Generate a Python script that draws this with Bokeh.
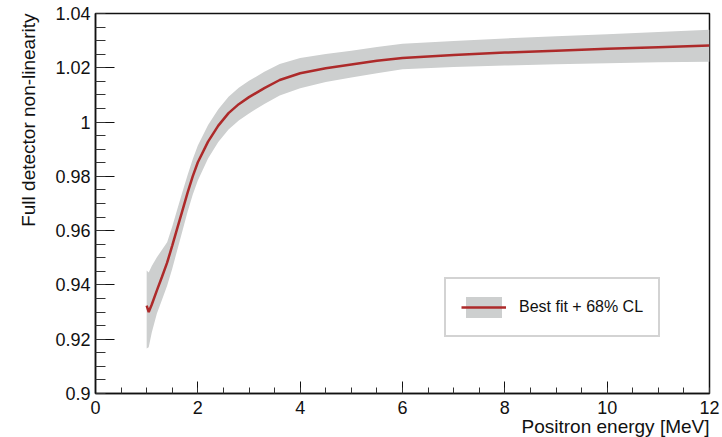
from bokeh.plotting import figure
from bokeh.models import (Range1d, SingleIntervalTicker, CustomJSTickFormatter,
                          Legend, LegendItem, ColumnDataSource, Title)
from bokeh.embed import file_html
from bokeh.resources import INLINE

# ---- data ----
energy = [1.0, 1.04, 1.1, 1.2, 1.3, 1.4, 1.5, 1.6, 1.7, 1.8, 1.9, 2.0, 2.2, 2.4, 2.6,
          2.8, 3.0, 3.3, 3.6, 4.0, 4.5, 5.0, 5.5, 6.0, 7.0, 8.0, 9.0, 10.0, 11.0, 12.0]
best_fit = [0.9324, 0.9300, 0.9328, 0.9380, 0.9430, 0.9482, 0.9545, 0.9610, 0.9675, 0.9740,
            0.9800, 0.9852, 0.9928, 0.9987, 1.0033, 1.0066, 1.0092, 1.0125, 1.0155, 1.0180,
            1.0198, 1.0212, 1.0226, 1.0236, 1.0247, 1.0256, 1.0263, 1.0270, 1.0276, 1.0282]
cl68_upper = [0.9453, 0.9446, 0.9470, 0.9502, 0.9530, 0.9557, 0.9615, 0.9680, 0.9743, 0.9805,
              0.9863, 0.9914, 0.9989, 1.0047, 1.0093, 1.0126, 1.0152, 1.0185, 1.0214, 1.0236,
              1.0251, 1.0263, 1.0277, 1.0289, 1.0299, 1.0308, 1.0316, 1.0324, 1.0332, 1.0340]
cl68_lower = [0.9166, 0.9170, 0.9225, 0.9295, 0.9345, 0.9397, 0.9460, 0.9530, 0.9600, 0.9670,
              0.9732, 0.9785, 0.9866, 0.9927, 0.9973, 1.0006, 1.0032, 1.0067, 1.0098, 1.0125,
              1.0148, 1.0164, 1.0180, 1.0195, 1.0203, 1.0208, 1.0213, 1.0217, 1.0220, 1.0222]

x_title = "Positron energy [MeV]"
y_title = "Full detector non-linearity"
legend_label = "Best fit + 68% CL"

FONT = "Liberation Sans"

src = ColumnDataSource(dict(x=energy, y=best_fit, lo=cl68_lower, hi=cl68_upper))

p = figure(width=722, height=437, output_backend="svg", toolbar_location=None,
           x_range=Range1d(0, 12), y_range=Range1d(0.9, 1.04))
p.min_border_left = 95
p.min_border_right = 13
p.min_border_top = 13
p.min_border_bottom = 44
p.background_fill_color = "white"
p.border_fill_color = "white"
p.outline_line_color = "#111111"
p.outline_line_width = 1.5
p.xgrid.visible = False
p.ygrid.visible = False

band = p.varea(x="x", y1="lo", y2="hi", source=src, fill_color="#cdcfcf", fill_alpha=1.0)
line = p.line(x="x", y="y", source=src, line_color="#ad2a2a", line_width=2.5)

# axes
xa = p.xaxis[0]
xa.ticker = SingleIntervalTicker(interval=2, num_minor_ticks=4)
ya = p.yaxis[0]
ya.ticker = SingleIntervalTicker(interval=0.02, num_minor_ticks=4)
ya.formatter = CustomJSTickFormatter(
    code="return tick.toFixed(2).replace(/0+$/,'').replace(/\\.$/,'');")

for ax in (xa, ya):
    ax.axis_line_color = "#111111"
    ax.axis_line_width = 1.5
    ax.major_tick_line_color = "#111111"
    ax.minor_tick_line_color = "#333333"
    ax.major_tick_out = 0
    ax.minor_tick_out = 0
    ax.major_label_text_font = FONT
    ax.major_label_text_font_size = "18px"
    ax.major_label_text_color = "#111111"

xa.major_tick_in = 12
xa.minor_tick_in = 6
xa.major_label_standoff = 7
ya.major_tick_in = 19
ya.minor_tick_in = 10
ya.major_label_standoff = 5

# axis titles, ROOT style (aligned to the end of each axis)
xt = Title(text=x_title, align="right", text_font=FONT, text_font_size="19px",
           text_font_style="normal", text_color="#111111", standoff=-6)
yt = Title(text=y_title, align="right", text_font=FONT, text_font_size="19px",
           text_font_style="normal", text_color="#111111", standoff=28)
p.add_layout(xt, "below")
p.add_layout(yt, "left")

legend = Legend(items=[LegendItem(label=legend_label, renderers=[band, line])],
                location=(349, 56))
legend.border_line_color = "#a8a8a8"
legend.border_line_width = 2
legend.background_fill_color = "white"
legend.background_fill_alpha = 1.0
legend.padding = 15
legend.margin = 0
legend.spacing = 0
legend.glyph_width = 45
legend.glyph_height = 26
legend.label_standoff = 13
legend.label_text_font = FONT
legend.label_text_font_size = "16px"
legend.label_text_color = "#111111"
p.add_layout(legend, "center")

open("out.html", "w").write(file_html(p, INLINE))
